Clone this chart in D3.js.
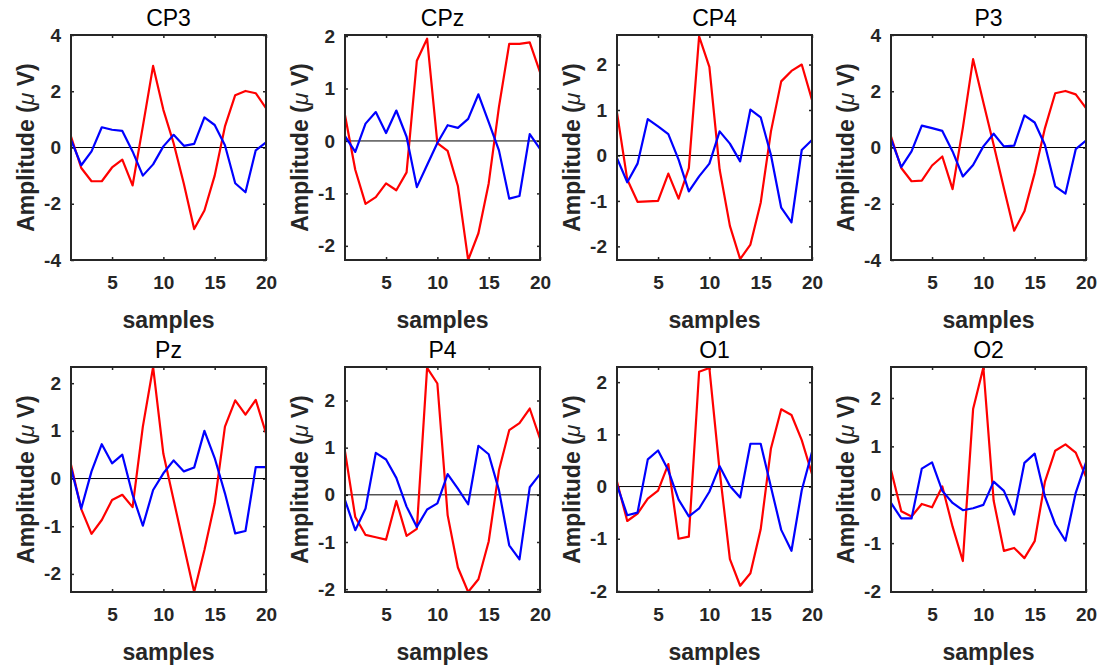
<!DOCTYPE html>
<html lang="en">
    <head>
        <meta charset="utf-8" />
        <title>ERP channels</title>
        <script src="https://d3js.org/d3.v7.min.js"></script>
        <style>
            body {
                margin: 0;
                background: #fff;
            }
            svg text {
                font-family: "Liberation Sans", Arial, Helvetica, sans-serif;
            }
        </style>
    </head>
    <body>
        <div id="chart"></div>
        <script>
            // channel names (one subplot each)
            var channels = ["CP3", "CPz", "CP4", "P3", "Pz", "P4", "O1", "O2"];
            var samples = d3.range(1, 21);
            var xTicks = [5, 10, 15, 20];

            // y limits per channel
            var yLimits = [
                [-4, 4], [-2.27, 2.02], [-2.3, 2.65], [-4, 4],
                [-2.38, 2.34], [-2.06, 2.71], [-2.02, 2.29], [-2.01, 2.64]
            ];
            var yTicksWide = [-4, -2, 0, 2, 4];
            var yTicksNarrow = [-2, -1, 0, 1, 2];

            // red trace
            var cp3Red = [0.39, -0.73, -1.2, -1.2, -0.71, -0.43, -1.35, 0.75, 2.9, 1.34, 0.15, -1.3, -2.9, -2.24, -1.0, 0.75, 1.86, 2.01, 1.93, 1.4];
            var cpzRed = [0.49, -0.55, -1.2, -1.07, -0.81, -0.94, -0.6, 1.53, 1.95, -0.04, -0.19, -0.86, -2.27, -1.76, -0.81, 0.65, 1.85, 1.85, 1.88, 1.31];
            var cp4Red = [0.94, -0.53, -1.02, -1.01, -1.0, -0.4, -0.95, -0.28, 2.62, 1.95, -0.31, -1.55, -2.28, -1.96, -1.04, 0.53, 1.63, 1.86, 2.0, 1.22];
            var p3Red = [0.39, -0.73, -1.2, -1.18, -0.64, -0.32, -1.48, 0.7, 3.14, 1.6, 0.1, -1.45, -2.96, -2.27, -0.91, 0.69, 1.93, 2.01, 1.89, 1.4];
            var pzRed = [0.29, -0.64, -1.16, -0.87, -0.45, -0.34, -0.6, 1.09, 2.34, 0.52, -0.45, -1.42, -2.38, -1.5, -0.52, 1.09, 1.64, 1.34, 1.65, 0.95];
            var p4Red = [0.92, -0.47, -0.85, -0.9, -0.95, -0.13, -0.87, -0.72, 2.69, 2.36, -0.43, -1.54, -2.06, -1.79, -0.99, 0.52, 1.37, 1.52, 1.83, 1.19];
            var o1Red = [0.09, -0.66, -0.52, -0.23, -0.08, 0.43, -1.0, -0.96, 2.2, 2.27, 0.3, -1.39, -1.9, -1.66, -0.82, 0.73, 1.48, 1.37, 0.89, 0.24];
            var o2Red = [0.51, -0.34, -0.45, -0.19, -0.26, 0.17, -0.66, -1.37, 1.77, 2.63, -0.12, -1.16, -1.1, -1.31, -0.96, 0.27, 0.91, 1.04, 0.87, 0.37];

            // blue trace
            var cp3Blue = [0.27, -0.63, -0.14, 0.72, 0.63, 0.59, -0.14, -1.0, -0.6, 0.04, 0.45, 0.06, 0.13, 1.07, 0.8, 0.08, -1.27, -1.59, -0.1, 0.18];
            var cpzBlue = [0.09, -0.21, 0.33, 0.55, 0.15, 0.58, 0.08, -0.88, -0.46, -0.04, 0.3, 0.25, 0.42, 0.89, 0.36, -0.18, -1.1, -1.05, 0.13, -0.15];
            var cp4Blue = [-0.06, -0.59, -0.18, 0.8, 0.64, 0.47, -0.09, -0.79, -0.46, -0.18, 0.53, 0.26, -0.13, 1.01, 0.84, 0.01, -1.15, -1.47, 0.12, 0.34];
            var p3Blue = [0.3, -0.7, -0.14, 0.78, 0.69, 0.59, -0.14, -1.03, -0.62, 0.04, 0.49, 0.04, 0.07, 1.14, 0.89, 0.09, -1.38, -1.64, -0.06, 0.25];
            var pzBlue = [0.22, -0.63, 0.15, 0.72, 0.32, 0.5, -0.34, -0.99, -0.24, 0.11, 0.38, 0.15, 0.23, 1.0, 0.43, -0.31, -1.15, -1.1, 0.24, 0.24];
            var p4Blue = [-0.11, -0.75, -0.29, 0.89, 0.75, 0.36, -0.25, -0.68, -0.31, -0.18, 0.44, 0.13, -0.2, 1.04, 0.86, 0.1, -1.07, -1.37, 0.16, 0.44];
            var o1Blue = [0.03, -0.55, -0.5, 0.52, 0.69, 0.31, -0.25, -0.57, -0.42, -0.1, 0.39, 0.01, -0.21, 0.82, 0.82, -0.01, -0.83, -1.23, -0.07, 0.66];
            var o2Blue = [-0.17, -0.49, -0.49, 0.54, 0.67, 0.08, -0.17, -0.32, -0.28, -0.21, 0.27, 0.08, -0.41, 0.66, 0.85, -0.04, -0.61, -0.95, 0.04, 0.67];

            var redTraces = [cp3Red, cpzRed, cp4Red, p3Red, pzRed, p4Red, o1Red, o2Red];
            var blueTraces = [cp3Blue, cpzBlue, cp4Blue, p3Blue, pzBlue, p4Blue, o1Blue, o2Blue];

            var width = 1107;
            var height = 668;
            var colLeft = [71, 345, 617, 891];
            var rowTop = [35, 367];
            var plotW = 195;
            var plotH = 225;
            var ink = "#262626";
            var plain = function (d) { return String(d); };

            var svg = d3
                .select("#chart")
                .append("svg")
                .attr("width", width)
                .attr("height", height);

            channels.forEach(function (name, i) {
                var left = colLeft[i % 4];
                var top = rowTop[Math.floor(i / 4)];

                var x = d3.scaleLinear().domain([1, 20]).range([0, plotW]);
                var y = d3.scaleLinear().domain(yLimits[i]).range([plotH, 0]);
                var yTicks = yLimits[i][1] > 3 ? yTicksWide : yTicksNarrow;

                var g = svg
                    .append("g")
                    .attr("transform", "translate(" + left + "," + top + ")");

                g.append("clipPath")
                    .attr("id", "clip" + i)
                    .append("rect")
                    .attr("width", plotW)
                    .attr("height", plotH);

                // axes: labelled bottom/left, bare top/right, ticks inward
                var bottom = g
                    .append("g")
                    .attr("transform", "translate(0," + plotH + ")")
                    .call(
                        d3.axisBottom(x).tickValues(xTicks).tickFormat(plain)
                            .tickSizeInner(-3).tickSizeOuter(0).tickPadding(16)
                    );
                var leftAx = g.append("g").call(
                    d3.axisLeft(y).tickValues(yTicks).tickFormat(plain)
                        .tickSizeInner(-3).tickSizeOuter(0).tickPadding(10)
                );
                var topAx = g.append("g").call(
                    d3.axisTop(x).tickValues(xTicks)
                        .tickSizeInner(-3).tickSizeOuter(0).tickFormat("")
                );
                var rightAx = g
                    .append("g")
                    .attr("transform", "translate(" + plotW + ",0)")
                    .call(
                        d3.axisRight(y).tickValues(yTicks)
                            .tickSizeInner(-3).tickSizeOuter(0).tickFormat("")
                    );

                [bottom, leftAx, topAx, rightAx].forEach(function (a) {
                    a.select(".domain").remove();
                    a.selectAll("line").attr("stroke", ink).attr("stroke-width", 1.5);
                    a.selectAll("text")
                        .attr("fill", ink)
                        .style("font-size", "19px")
                        .style("font-weight", "bold");
                });

                // zero line
                g.append("line")
                    .attr("x1", x(1))
                    .attr("x2", x(20))
                    .attr("y1", y(0))
                    .attr("y2", y(0))
                    .attr("stroke", "#000")
                    .attr("stroke-width", 1);

                var line = d3
                    .line()
                    .x(function (d, j) { return x(samples[j]); })
                    .y(function (d) { return y(d); });

                g.append("path")
                    .datum(redTraces[i])
                    .attr("d", line)
                    .attr("fill", "none")
                    .attr("stroke", "#ff0000")
                    .attr("stroke-width", 2.2)
                    .attr("stroke-linejoin", "round")
                    .attr("clip-path", "url(#clip" + i + ")");

                g.append("path")
                    .datum(blueTraces[i])
                    .attr("d", line)
                    .attr("fill", "none")
                    .attr("stroke", "#0000ff")
                    .attr("stroke-width", 2.2)
                    .attr("stroke-linejoin", "round")
                    .attr("clip-path", "url(#clip" + i + ")");

                // box
                g.append("rect")
                    .attr("width", plotW)
                    .attr("height", plotH)
                    .attr("fill", "none")
                    .attr("stroke", ink)
                    .attr("stroke-width", 2);

                // title
                g.append("text")
                    .attr("x", plotW / 2)
                    .attr("y", -9)
                    .attr("text-anchor", "middle")
                    .attr("fill", "#000")
                    .style("font-size", "23px")
                    .text(name);

                // x label
                g.append("text")
                    .attr("x", plotW / 2)
                    .attr("y", plotH + 68)
                    .attr("text-anchor", "middle")
                    .attr("fill", ink)
                    .style("font-size", "23px")
                    .style("font-weight", "bold")
                    .text("samples");

                // y label
                var yl = g
                    .append("text")
                    .attr("transform", "translate(-37," + plotH / 2 + ") rotate(-90)")
                    .attr("text-anchor", "middle")
                    .attr("fill", ink)
                    .style("font-size", "23px")
                    .style("font-weight", "bold");
                yl.append("tspan").text("Amplitude (");
                yl.append("tspan")
                    .style("font-style", "italic")
                    .style("font-weight", "normal")
                    .text("\u03bc");
                yl.append("tspan").text(" V)");
            });
        </script>
    </body>
</html>
